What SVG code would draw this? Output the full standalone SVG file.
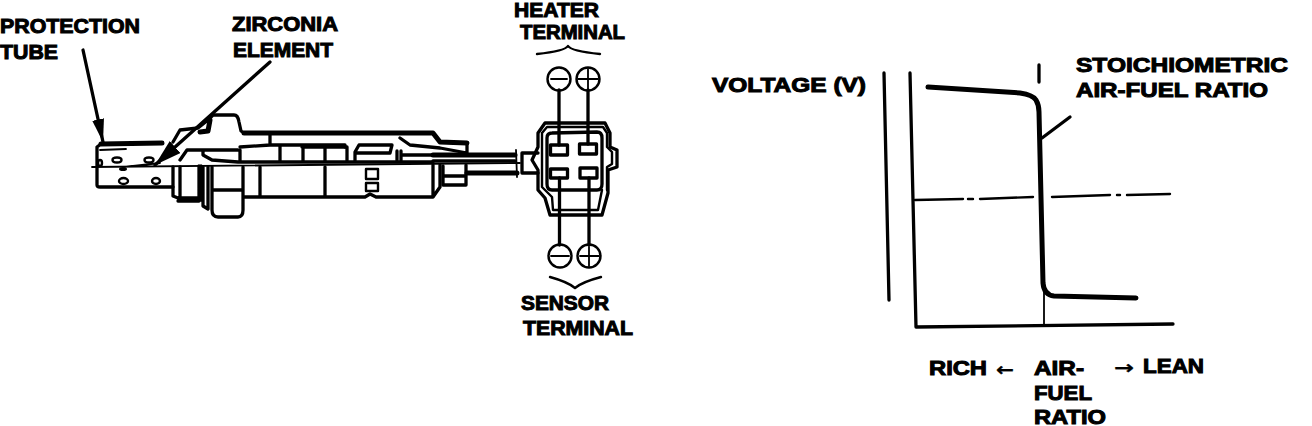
<svg xmlns="http://www.w3.org/2000/svg" width="1312" height="426" viewBox="0 0 1312 426">
<style>
text{font-family:"Liberation Sans",Arial,sans-serif;font-weight:700;font-size:20px;fill:#000;stroke:#000;stroke-width:1px}
.ar{font-family:"DejaVu Sans",sans-serif;font-size:18px;stroke-width:.3px}
.l{fill:none;stroke:#000;stroke-width:3.300;stroke-linejoin:round;stroke-linecap:round}
.m{fill:none;stroke:#000;stroke-width:2.400;stroke-linejoin:round;stroke-linecap:round}
.t{fill:none;stroke:#000;stroke-width:1.800;stroke-linecap:round}
.b{fill:none;stroke:#000;stroke-width:5;stroke-linecap:round;stroke-linejoin:round}
.h{fill:#fff;stroke:#000;stroke-width:2.400}
</style>
<defs>
<marker id="ah" markerUnits="userSpaceOnUse" markerWidth="24" markerHeight="14" refX="23" refY="6" orient="auto"><path d="M0 0L23 6L0 12z" fill="#000"/></marker>
<marker id="ah2" markerUnits="userSpaceOnUse" markerWidth="28" markerHeight="18" refX="27" refY="8" orient="auto"><path d="M0 0L27 8L0 16z" fill="#000"/></marker>
</defs>
<rect width="1312" height="426" fill="#fff"/>
<g id="sensor">
<path class="l" d="M97 185V147L101 144M97 185Q97 187 100 187H173"/>
<path class="b" d="M101 144L162 143"/>
<path class="t" d="M100 150L126 149M92 167L520 163M160 163L124 167"/>
<ellipse class="h" cx="117" cy="160" rx="4.500" ry="2.500"/><ellipse class="h" cx="149" cy="160" rx="4.500" ry="2.500"/>
<ellipse class="h" cx="123.500" cy="181" rx="4.500" ry="3"/><ellipse class="h" cx="156" cy="181" rx="4" ry="3"/>
<ellipse class="h" cx="100" cy="163" rx="2" ry="3"/>
<ellipse fill="#000" cx="123" cy="169" rx="4" ry="2"/>
<path class="l" d="M173 142L180 130L198 128L208 120L213 115H234Q238 115 239 122L241 131L244 133H433L440 142L467 143V153L440 148L410 145L400 138"/>
<path class="b" d="M244 133H433L440 142L467 143M210 120L208 131L200 132"/>
<path class="l" d="M240 147L270 145V133M270 145H345V147"/>
<path class="l" d="M180 160L187 150H238M203 150V155L212 160L238 162H433M240 150V162M280 146V162M303 146V162M325 146V162M302 147H347V160M355 160V152L359 145H392L390 153H356M397 151V160M401 151V160M403 155H433"/>
<path class="l" d="M173 167V196L178 198H199V166M180 167V197M178 201H199M201 166V200M203 167V206L208 209V167M212 167V210Q212 217 218 217H238Q243 217 243 210V167M212 190H243M243 197H365L370 194L376 197H433L440 187V165M260 167V197M325 167V197M433 165V197"/>
<rect class="m" x="366" y="169" width="12" height="10"/><rect class="m" x="366" y="183" width="12" height="8"/>
<path class="l" d="M443 166V185H466V165M443 176H465"/>
<path class="b" d="M433 155H515M467 173H517"/>
<path class="l" d="M433 161H515M538 153H522V173H538"/>
<path class="t" d="M516 150L517 177"/>
</g>
<g id="connector">
<path class="l" d="M538 133L545 123H605L610 133V147L617 150V167L608 170V193L602 215H550L545 198L538 190V170L532 160L538 147Z"/>
<path class="m" d="M542 133L547 127H603L607 133V147L612 152V164L607 167V190M542 133V187L552 197L553 210H598L602 190"/>
<path class="l" d="M547 138Q547 133 552 133L597 132Q602 132 602 138V184Q602 190 597 190H552Q547 190 547 184Z"/>
<rect class="l" x="550.500" y="145" width="17" height="10"/><rect class="l" x="579.500" y="144" width="17" height="10"/>
<rect class="l" x="550.500" y="169" width="17" height="9"/><rect class="l" x="580" y="168" width="17" height="10"/>
</g>
<g id="terminals">
<path class="l" d="M559 90V145M588 90V144M559.500 178V245M589 178V245"/>
<circle class="m" cx="559" cy="79" r="11.500"/><path class="t" d="M551 79H567"/>
<circle class="m" cx="588" cy="79" r="11.500"/><path class="t" d="M578 79H598M588 69V89"/>
<circle class="m" cx="560" cy="256" r="11.500"/><path class="t" d="M551 256H569"/>
<circle class="m" cx="589" cy="256" r="11.500"/><path class="t" d="M580 256H599M589 247V266"/>
<path class="m" d="M537 54Q565 51 568 46Q571 51 600 54"/>
<path class="m" d="M550 277Q568 282 575 288Q582 282 601 277"/>
</g>
<g id="leaders">
<path class="l" marker-end="url(#ah)" d="M83 50L103 142"/>
<path class="l" marker-end="url(#ah2)" d="M270 62L155 165"/>
</g>
<g id="graph">
<path class="l" d="M884 73L889 300"/>
<path class="l" d="M910 73L916 327L1173 324"/>
<path class="m" d="M915 200L963 199M968 199H973M980 199L1033 197M1052 197L1110 195M1117 195H1120M1127 195L1170 194"/>
<path class="l" d="M1039 65V82"/>
<path class="b" d="M928 87L1020 93Q1033 95 1036 100Q1039 105 1039 112L1043 283Q1044 295 1054 296L1136 298"/>
<path class="l" d="M1042 138L1070 117"/>
<path class="t" d="M1044 285V325"/>
</g>
<g id="labels">
<text x="0" y="33" textLength="140" lengthAdjust="spacingAndGlyphs">PROTECTION</text>
<text x="0" y="59" textLength="58" lengthAdjust="spacingAndGlyphs">TUBE</text>
<text x="232" y="31" textLength="106" lengthAdjust="spacingAndGlyphs">ZIRCONIA</text>
<text x="233" y="57" textLength="100" lengthAdjust="spacingAndGlyphs">ELEMENT</text>
<text x="514" y="16.500" textLength="85" lengthAdjust="spacingAndGlyphs">HEATER</text>
<text x="520" y="39" textLength="105" lengthAdjust="spacingAndGlyphs">TERMINAL</text>
<text x="521" y="310" textLength="88" lengthAdjust="spacingAndGlyphs">SENSOR</text>
<text x="523" y="335" textLength="110" lengthAdjust="spacingAndGlyphs">TERMINAL</text>
<text x="712" y="92" textLength="154" lengthAdjust="spacingAndGlyphs">VOLTAGE (V)</text>
<text x="1076" y="72" textLength="212" lengthAdjust="spacingAndGlyphs">STOICHIOMETRIC</text>
<text x="1076" y="97" textLength="192" lengthAdjust="spacingAndGlyphs">AIR-FUEL RATIO</text>
<text x="929" y="375" textLength="58" lengthAdjust="spacingAndGlyphs">RICH</text>
<text class="ar" x="996" y="376" textLength="18" lengthAdjust="spacingAndGlyphs">←</text>
<text x="1034" y="375" textLength="50" lengthAdjust="spacingAndGlyphs">AIR-</text>
<text class="ar" x="1114" y="374" textLength="20" lengthAdjust="spacingAndGlyphs">→</text>
<text x="1143" y="373" textLength="61" lengthAdjust="spacingAndGlyphs">LEAN</text>
<text x="1034" y="400" textLength="58" lengthAdjust="spacingAndGlyphs">FUEL</text>
<text x="1034" y="424" textLength="72" lengthAdjust="spacingAndGlyphs">RATIO</text>
</g>
</svg>
